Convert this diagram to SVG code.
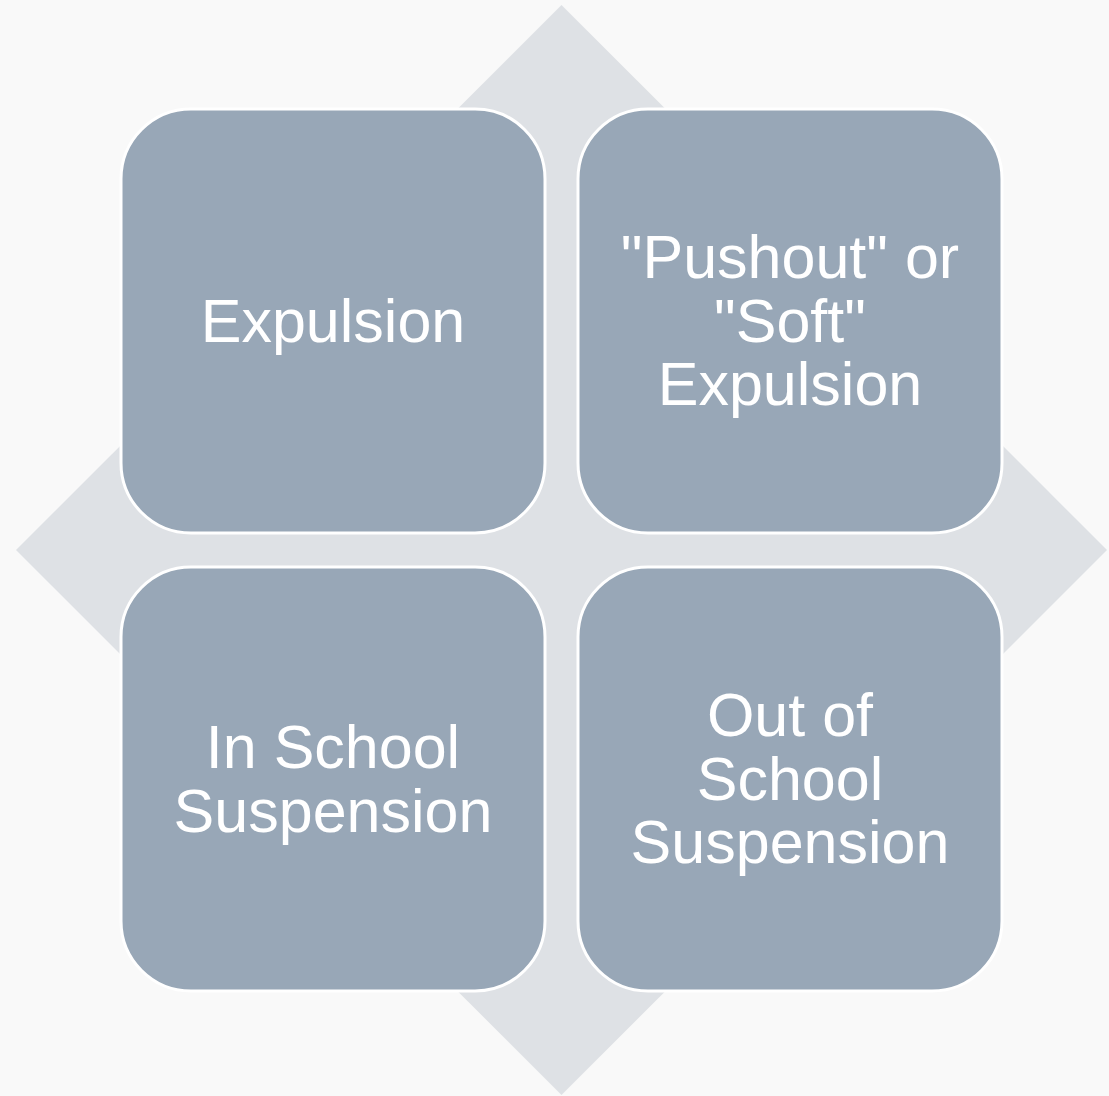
<svg xmlns="http://www.w3.org/2000/svg" width="1109" height="1096" viewBox="0 0 1109 1096">
  <style>
    .bg { fill: #f9f9f9; }
    .diamond { fill: #dee1e5; }
    .box { fill: #98a7b7; stroke: #ffffff; stroke-width: 3; }
    .label { font-family: "Liberation Sans", Arial, sans-serif; font-size: 61px; fill: #ffffff; text-anchor: middle; }
  </style>
  <rect class="bg" x="0" y="0" width="1109" height="1096"/>
  <g id="connectors">
    <polygon class="diamond" points="561.5,5 1107,550 561.5,1095 16,550"/>
  </g>
  <g id="node-expulsion">
    <rect class="box" x="121" y="109" width="424" height="424" rx="70" ry="70"/>
    <text class="label" x="333" y="342">Expulsion</text>
  </g>
  <g id="node-pushout">
    <rect class="box" x="578" y="109" width="424" height="424" rx="70" ry="70"/>
    <text class="label" x="790" y="278">"Pushout" or</text>
    <text class="label" x="790" y="341.5">"Soft"</text>
    <text class="label" x="790" y="405">Expulsion</text>
  </g>
  <g id="node-in-school">
    <rect class="box" x="121" y="567" width="424" height="424" rx="70" ry="70"/>
    <text class="label" x="333" y="768">In School</text>
    <text class="label" x="333" y="831.5">Suspension</text>
  </g>
  <g id="node-out-of-school">
    <rect class="box" x="578" y="567" width="424" height="424" rx="70" ry="70"/>
    <text class="label" x="790" y="736">Out of</text>
    <text class="label" x="790" y="799.5">School</text>
    <text class="label" x="790" y="863">Suspension</text>
  </g>
</svg>
